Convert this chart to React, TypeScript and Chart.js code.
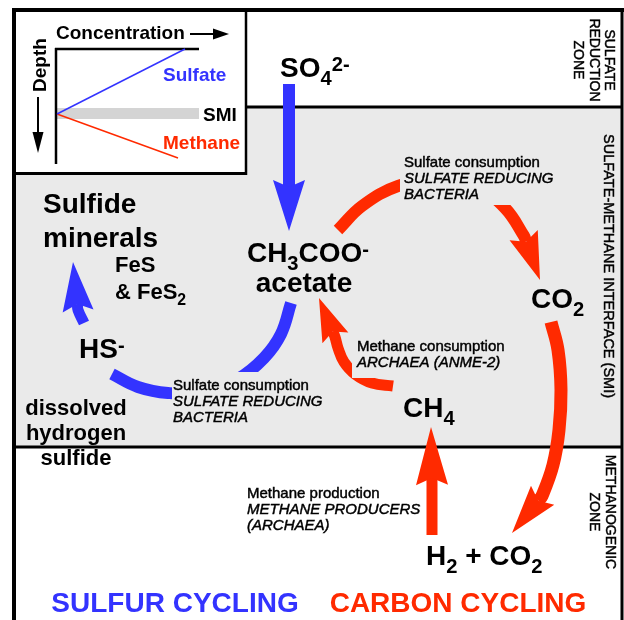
import React, { useEffect, useRef } from "react";
import { Chart, registerables } from "chart.js";

Chart.register(...registerables);

const BLUE = "#3333ff";
const RED = "#ff2a00";
const GREY = "#eaeaea";
const BAR_GREY = "#d4d4d4";
const FONT = '"Liberation Sans", Arial, Helvetica, sans-serif';

// ---- zone layout (diagram units, y grows downward) ----
const zoneLines = [107, 447];
const zoneTitles = [["SULFATE", "REDUCTION", "ZONE"], ["SULFATE-METHANE INTERFACE (SMI)"], ["METHANOGENIC", "ZONE"]];
const zoneTitleX = [[609, 594, 578], [608], [610, 594]];
const zoneTitleY = [60, 266, 512];

// ---- inset depth profile ----
const sulfateProfile = [[57, 114], [185, 49]];
const methaneProfile = [[57, 114], [178, 158]];
const smiBand = [57, 108, 199, 119];
const insetLabels = ["Concentration", "Depth", "Sulfate", "SMI", "Methane"];

// ---- cycle arrows (centre lines) ----
const arrowNames = ["so4ToAcetate", "acetateToHS", "hsToMinerals", "acetateToCO2", "ch4ToAcetate", "co2ToH2", "h2ToCH4"];
const arrowPaths: number[][][] = [
  [[289, 84], [289, 181]],
  [[291, 303], [281, 334], [264, 358], [238, 379], [205, 392], [168, 393], [138, 387], [112, 374]],
  [[84, 323], [78, 310]],
  [[338, 230], [362, 206], [398, 186], [440, 179], [478, 188], [505, 208], [524, 236]],
  [[393, 386], [372, 383], [355, 374], [344, 362], [338, 348], [335, 337]],
  [[551, 322], [558, 350], [561, 390], [559, 430], [553, 465], [542, 496]],
  [[432, 535], [432, 484]],
];
const arrowTips: (number[] | null)[] = [[289, 231], null, [73, 262], [540, 280], [319, 298], [512, 533], [431, 427]];
const arrowColors = [BLUE, BLUE, BLUE, RED, RED, RED, RED];
const arrowWidths = [12, 12, 11, 12, 11, 13, 11];
const headHalf = [16, 0, 15.5, 15, 14, 15, 16];

// ---- species labels: [text, 0 normal | 1 sub | 2 sup] ----
const speciesText: [string, number][][] = [
  [["SO", 0], ["4", 1], ["2-", 2]],
  [["CH", 0], ["3", 1], ["COO", 0], ["-", 2]],
  [["acetate", 0]],
  [["Sulfide", 0]],
  [["minerals", 0]],
  [["HS", 0], ["-", 2]],
  [["CO", 0], ["2", 1]],
  [["CH", 0], ["4", 1]],
  [["H", 0], ["2", 1], [" + CO", 0], ["2", 1]],
];
const speciesAt = [[280, 77], [308, 262], [304, 292], [43, 213], [43, 247], [79, 358], [531, 308], [403, 417], [426, 565]];
const speciesAlign = ["left", "center", "center", "left", "left", "left", "left", "left", "left"];

const mineralText: [string, number][][] = [[["FeS", 0]], [["& FeS", 0], ["2", 1]]];
const mineralAt = [[115, 272], [115, 299]];
const dissolvedText = ["dissolved", "hydrogen", "sulfide"];
const dissolvedAt = [[76, 415], [76, 440], [76, 465]];

// ---- process labels ----
const processText = [
  ["Sulfate consumption", "SULFATE REDUCING", "BACTERIA"],
  ["Sulfate consumption", "SULFATE REDUCING", "BACTERIA"],
  ["Methane consumption", "ARCHAEA (ANME-2)"],
  ["Methane production", "METHANE PRODUCERS", "(ARCHAEA)"],
];
const processAt = [[404, 167], [173, 390], [357, 351], [247, 498]];
const processMasks = [[400, 150, 552, 205], [172, 372, 325, 426], [352, 336, 512, 378], null];

const cycleTitles = ["SULFUR CYCLING", "CARBON CYCLING"];
const cycleAt = [[175, 612], [458, 612]];

function drawRich(ctx: CanvasRenderingContext2D, segs: [string, number][], x: number, y: number, size: number, align: string, color: string) {
  const parts = segs.map(([t, k]) => ({ t, k, f: `bold ${k ? size * 0.72 : size}px ${FONT}`, w: 0 }));
  let w = 0;
  parts.forEach((p) => {
    ctx.font = p.f;
    p.w = ctx.measureText(p.t).width;
    w += p.w;
  });
  let cx = align === "center" ? x - w / 2 : x;
  ctx.fillStyle = color;
  ctx.textAlign = "left";
  ctx.textBaseline = "alphabetic";
  parts.forEach((p) => {
    ctx.font = p.f;
    const dy = p.k === 1 ? size * 0.29 : p.k === 2 ? -size * 0.23 : 0;
    ctx.fillText(p.t, cx, y + dy);
    cx += p.w;
  });
}

function heavyText(ctx: CanvasRenderingContext2D, t: string, x: number, y: number, color: string) {
  ctx.fillStyle = color;
  ctx.strokeStyle = color;
  ctx.lineWidth = 0.45;
  ctx.fillText(t, x, y);
  ctx.strokeText(t, x, y);
}

function headGeom(i: number) {
  const path = arrowPaths[i];
  const tip = arrowTips[i]!;
  const last = path[path.length - 1];
  const dx = tip[0] - last[0];
  const dy = tip[1] - last[1];
  const len = Math.hypot(dx, dy);
  return { last, tip, ux: dx / len, uy: dy / len };
}

const diagramPlugin = {
  id: "diagram",
  beforeDatasetsDraw(chart: any) {
    const { ctx } = chart;
    const xs = chart.scales.x;
    const ys = chart.scales.y;
    const X = (v: number) => xs.getPixelForValue(v);
    const Y = (v: number) => ys.getPixelForValue(v);
    const seg = (x1: number, y1: number, x2: number, y2: number, w: number) => {
      ctx.lineWidth = w;
      ctx.beginPath();
      ctx.moveTo(X(x1), Y(y1));
      ctx.lineTo(X(x2), Y(y2));
      ctx.stroke();
    };
    ctx.save();
    ctx.fillStyle = "#ffffff";
    ctx.fillRect(0, 0, chart.width, chart.height);
    ctx.fillStyle = GREY;
    ctx.fillRect(X(16), Y(zoneLines[0]), X(621) - X(16), Y(zoneLines[1]) - Y(zoneLines[0]));
    ctx.strokeStyle = "#000";
    ctx.lineCap = "butt";
    seg(14, zoneLines[0], 622, zoneLines[0], 3);
    seg(14, zoneLines[1], 622, zoneLines[1], 3);
    // outer frame
    seg(14, 8, 14, 630, 4);
    seg(12, 10, 624, 10, 4);
    seg(622, 8, 622, 630, 3);
    // inset box
    ctx.fillStyle = "#ffffff";
    ctx.fillRect(X(16), Y(12), X(245) - X(16), Y(172) - Y(12));
    seg(246, 9, 246, 175, 2.5);
    seg(13, 173.5, 247, 173.5, 3);
    // inset axes and SMI band
    ctx.fillStyle = BAR_GREY;
    ctx.fillRect(X(smiBand[0]), Y(smiBand[1]), X(smiBand[2]) - X(smiBand[0]), Y(smiBand[3]) - Y(smiBand[1]));
    seg(56, 48, 56, 164, 2.5);
    seg(55, 49, 199, 49, 2.5);
    ctx.restore();
  },
  afterDatasetsDraw(chart: any) {
    const { ctx } = chart;
    const xs = chart.scales.x;
    const ys = chart.scales.y;
    const X = (v: number) => xs.getPixelForValue(v);
    const Y = (v: number) => ys.getPixelForValue(v);
    ctx.save();
    // masks behind process labels
    ctx.fillStyle = GREY;
    processMasks.forEach((m) => {
      if (!m) return;
      ctx.fillRect(X(m[0]), Y(m[1]), X(m[2]) - X(m[0]), Y(m[3]) - Y(m[1]));
    });
    // arrow heads
    arrowPaths.forEach((_, i) => {
      if (!arrowTips[i]) return;
      const { last, tip, ux, uy } = headGeom(i);
      const h = headHalf[i];
      const px = -uy;
      const py = ux;
      ctx.fillStyle = arrowColors[i];
      ctx.beginPath();
      ctx.moveTo(X(tip[0]), Y(tip[1]));
      ctx.lineTo(X(last[0] + px * h - ux * 1), Y(last[1] + py * h - uy * 1));
      ctx.lineTo(X(last[0] + ux * 6), Y(last[1] + uy * 6));
      ctx.lineTo(X(last[0] - px * h - ux * 1), Y(last[1] - py * h - uy * 1));
      ctx.closePath();
      ctx.fill();
    });
    // process labels
    ctx.textAlign = "left";
    ctx.textBaseline = "alphabetic";
    processText.forEach((lines, i) => {
      lines.forEach((t, j) => {
        ctx.font = `${j === 0 ? "" : "italic "}15px ${FONT}`;
        heavyText(ctx, t, X(processAt[i][0]), Y(processAt[i][1] + j * 16), "#000");
      });
    });
    // species
    speciesText.forEach((segs, i) => drawRich(ctx, segs, X(speciesAt[i][0]), Y(speciesAt[i][1]), 28, speciesAlign[i], "#000"));
    mineralText.forEach((segs, i) => drawRich(ctx, segs, X(mineralAt[i][0]), Y(mineralAt[i][1]), 22, "left", "#000"));
    dissolvedText.forEach((t, i) => drawRich(ctx, [[t, 0]], X(dissolvedAt[i][0]), Y(dissolvedAt[i][1]), 22, "center", "#000"));
    // cycle titles
    drawRich(ctx, [[cycleTitles[0], 0]], X(cycleAt[0][0]), Y(cycleAt[0][1]), 28, "center", BLUE);
    drawRich(ctx, [[cycleTitles[1], 0]], X(cycleAt[1][0]), Y(cycleAt[1][1]), 28, "center", RED);
    // zone titles (rotated)
    ctx.textAlign = "center";
    ctx.textBaseline = "middle";
    zoneTitles.forEach((lines, i) => {
      lines.forEach((t, j) => {
        ctx.save();
        ctx.translate(X(zoneTitleX[i][j]), Y(zoneTitleY[i]));
        ctx.rotate(Math.PI / 2);
        ctx.font = `${i === 1 ? 14.5 : 14}px ${FONT}`;
        heavyText(ctx, t, 0, 0, "#000");
        ctx.restore();
      });
    });
    // inset texts
    ctx.textAlign = "left";
    ctx.textBaseline = "alphabetic";
    ctx.font = `bold 19px ${FONT}`;
    ctx.fillStyle = "#000";
    ctx.fillText(insetLabels[0], X(56), Y(39));
    ctx.fillStyle = BLUE;
    ctx.fillText(insetLabels[2], X(163), Y(81));
    ctx.fillStyle = "#000";
    ctx.fillText(insetLabels[3], X(203), Y(121));
    ctx.fillStyle = RED;
    ctx.fillText(insetLabels[4], X(163), Y(149));
    ctx.save();
    ctx.fillStyle = "#000";
    ctx.translate(X(45.5), Y(65));
    ctx.rotate(-Math.PI / 2);
    ctx.textAlign = "center";
    ctx.fillText(insetLabels[1], 0, 0);
    ctx.restore();
    // inset arrows
    ctx.strokeStyle = "#000";
    ctx.fillStyle = "#000";
    ctx.lineWidth = 2;
    ctx.beginPath();
    ctx.moveTo(X(190), Y(34));
    ctx.lineTo(X(216), Y(34));
    ctx.moveTo(X(38), Y(97));
    ctx.lineTo(X(38), Y(136));
    ctx.stroke();
    ctx.beginPath();
    ctx.moveTo(X(229), Y(34));
    ctx.lineTo(X(213), Y(28.5));
    ctx.lineTo(X(213), Y(39.5));
    ctx.closePath();
    ctx.fill();
    ctx.beginPath();
    ctx.moveTo(X(38), Y(153));
    ctx.lineTo(X(32.5), Y(132));
    ctx.lineTo(X(43.5), Y(132));
    ctx.closePath();
    ctx.fill();
    ctx.restore();
  },
};

function buildDatasets() {
  const ds: any[] = [];
  const toPts = (p: number[][]) => p.map(([x, y]) => ({ x, y }));
  arrowPaths.forEach((path, i) => {
    let pts = path;
    if (arrowTips[i]) {
      const { last, ux, uy } = headGeom(i);
      pts = [...path, [last[0] + ux * 6, last[1] + uy * 6]];
    }
    ds.push({
      label: arrowNames[i],
      data: toPts(pts),
      showLine: true,
      borderColor: arrowColors[i],
      backgroundColor: arrowColors[i],
      borderWidth: arrowWidths[i],
      borderCapStyle: "butt",
      borderJoinStyle: "round",
      pointRadius: 0,
      tension: 0.4,
      fill: false,
      clip: false,
    });
  });
  ds.push({ label: "Sulfate", data: toPts(sulfateProfile), showLine: true, borderColor: BLUE, borderWidth: 1.5, pointRadius: 0, clip: false });
  ds.push({ label: "Methane", data: toPts(methaneProfile), showLine: true, borderColor: RED, borderWidth: 1.5, pointRadius: 0, clip: false });
  return ds;
}

export default function App() {
  const ref = useRef<HTMLCanvasElement | null>(null);
  useEffect(() => {
    document.body.style.margin = "0";
    document.body.style.overflow = "hidden";
    const chart = new Chart(ref.current!, {
      type: "scatter",
      data: { datasets: buildDatasets() },
      options: {
        responsive: false,
        animation: false,
        events: [],
        layout: { padding: 0 },
        plugins: { legend: { display: false }, tooltip: { enabled: false } },
        scales: {
          x: { type: "linear", min: 0, max: 624, display: false },
          y: { type: "linear", min: 0, max: 620, reverse: true, display: false },
        },
      },
      plugins: [diagramPlugin],
    } as any);
    return () => chart.destroy();
  }, []);
  return (
    <div style={{ width: 624, height: 620 }}>
      <canvas ref={ref} width={624} height={620} style={{ display: "block" }} />
    </div>
  );
}
